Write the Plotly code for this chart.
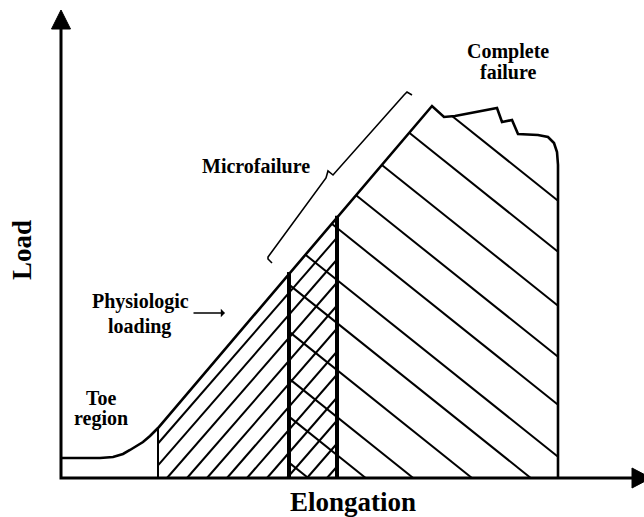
import numpy as np
import plotly.graph_objects as go

# ---- schematic data (elongation, load) in arbitrary units ----
curve_elong = [0, 39, 52, 62, 69, 76, 82, 89, 97, 371, 383, 394, 436, 441, 446, 451, 457, 477, 487, 493, 496, 497, 497]
curve_load = [20, 20, 21, 24, 28, 32, 36, 42, 50, 372, 361, 362, 370, 356, 357, 358, 344, 343, 341, 335, 326, 313, 0]

toe_end = 97          # end of toe region
physio_start = 228    # start of cross-hatched band
physio_end = 276      # end of physiologic loading
failure_at = 497      # complete failure

fwd_hatch_base = [67, 86, 106, 126, 146, 166, 186, 206, 226, 246, 266]   # "/" lines: elongation where load = 0
fwd_slope = 1.15
back_hatch_L = [454, 403, 349, 298, 250, 198, 155, 108, 61, 23, -23]     # "\" lines: load at physio_end
back_slope = 0.8

brace_elong = [211, 207, 207, 265, 267, 272, 343, 346, 351]
brace_load = [215, 219, 221, 300, 307, 303, 383, 386, 383]

axis_x_end = 571
axis_y_end = 449

# ---- helpers ----
top_x = np.array(curve_elong[:-1], dtype=float)
top_y = np.array(curve_load[:-1], dtype=float)


def clipped(e_lo, e_hi, func):
    es = np.linspace(e_lo, e_hi, 6001)
    L = func(es)
    top = np.interp(es, top_x, top_y)
    ok = (L >= 0) & (L <= top)
    xs, ys = [], []
    i = 0
    n = len(es)
    while i < n:
        if ok[i]:
            j = i
            while j + 1 < n and ok[j + 1]:
                j += 1
            if j > i:
                xs += [es[i], es[j], None]
                ys += [L[i], L[j], None]
            i = j + 1
        else:
            i += 1
    return xs, ys


fx, fy = [], []
for b in fwd_hatch_base:
    xs, ys = clipped(toe_end, physio_end, lambda e, b=b: fwd_slope * (e - b))
    fx += xs
    fy += ys

bx, by = [], []
for c in back_hatch_L:
    xs, ys = clipped(physio_start, failure_at, lambda e, c=c: c - back_slope * (e - physio_end))
    bx += xs
    by += ys

fig = go.Figure()
black = "black"

# hatch
fig.add_trace(go.Scatter(x=fx, y=fy, mode="lines", line=dict(color=black, width=2), hoverinfo="skip"))
fig.add_trace(go.Scatter(x=bx, y=by, mode="lines", line=dict(color=black, width=2), hoverinfo="skip"))

# region boundaries
def top_at(e):
    return float(np.interp(e, top_x, top_y))

fig.add_trace(go.Scatter(x=[toe_end, toe_end], y=[0, top_at(toe_end)], mode="lines",
                         line=dict(color=black, width=2), hoverinfo="skip"))
for e in (physio_start, physio_end):
    fig.add_trace(go.Scatter(x=[e, e], y=[0, top_at(e) + 2], mode="lines",
                             line=dict(color=black, width=4), hoverinfo="skip"))

# main curve
fig.add_trace(go.Scatter(x=curve_elong, y=curve_load, mode="lines",
                         line=dict(color=black, width=2.6, shape="linear"), hoverinfo="skip"))

# brace
fig.add_trace(go.Scatter(x=brace_elong, y=brace_load, mode="lines",
                         line=dict(color=black, width=1.6), hoverinfo="skip"))

# axes
fig.add_trace(go.Scatter(x=[0, 0, axis_x_end], y=[axis_y_end, 0, 0], mode="lines",
                         line=dict(color=black, width=3), hoverinfo="skip"))
fig.add_trace(go.Scatter(x=[-9.5, 9.5, 0, -9.5], y=[axis_y_end, axis_y_end, axis_y_end + 19, axis_y_end],
                         mode="lines", fill="toself", fillcolor=black, line=dict(color=black, width=1),
                         hoverinfo="skip"))
fig.add_trace(go.Scatter(x=[axis_x_end, axis_x_end, axis_x_end + 19, axis_x_end], y=[-10, 10, 0, -10],
                         mode="lines", fill="toself", fillcolor=black, line=dict(color=black, width=1),
                         hoverinfo="skip"))

font = "Liberation Serif"
ann = []

def label(text, x, y, size, angle=0):
    ann.append(dict(x=x, y=y, xref="x", yref="y", text="<b>%s</b>" % text, showarrow=False,
                    font=dict(family=font, size=size, color=black), xanchor="center", yanchor="middle",
                    textangle=angle))

label("Complete", 447, 427, 20)
label("failure", 447, 406, 20)
label("Microfailure", 195, 312, 20)
label("Physiologic", 79, 177, 20)
label("loading", 78, 152, 20)
label("Toe", 40, 80, 20)
label("region", 40, 60, 20)
label("Elongation", 292, -24, 27)
label("Load", -39, 228, 27, angle=-90)

ann.append(dict(x=164, y=165, ax=131, ay=165, xref="x", yref="y", axref="x", ayref="y", text="",
                showarrow=True, arrowhead=1, arrowsize=1, arrowwidth=1.4, arrowcolor=black))

fig.update_layout(
    width=644, height=517,
    margin=dict(l=0, r=0, t=0, b=0),
    paper_bgcolor="white", plot_bgcolor="white",
    showlegend=False,
    annotations=ann,
    xaxis=dict(range=[-61, 583], visible=False, fixedrange=True),
    yaxis=dict(range=[-39, 478], visible=False, fixedrange=True),
)

fig.write_html("out.html", config={"displayModeBar": False},
               post_script="document.body.style.margin='0px';document.body.style.overflow='hidden';")
